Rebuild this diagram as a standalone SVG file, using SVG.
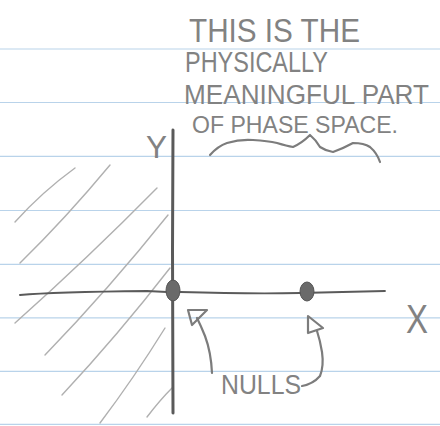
<svg xmlns="http://www.w3.org/2000/svg" width="440" height="426" viewBox="0 0 440 426">
<style>
.rule{stroke:#b9d3ea;stroke-width:1.2;fill:none}
.hatch{stroke:#b0b0b0;stroke-width:1.4;fill:none;stroke-linecap:round}
.axis{stroke:#5a5a5a;fill:none;stroke-linecap:round}
.dot{fill:#6a6a6a;stroke:#555;stroke-width:1}
.pen{stroke:#7c7c7c;stroke-width:2.2;fill:none;stroke-linecap:round;stroke-linejoin:round}
.hand{font-family:"Liberation Sans",Arial,sans-serif;fill:#828282;font-weight:normal}
</style>
<rect width="440" height="426" fill="#ffffff"/>
<g id="paper-lines">
<line class="rule" x1="0" y1="49" x2="440" y2="49"/>
<line class="rule" x1="0" y1="102.5" x2="440" y2="102.5"/>
<line class="rule" x1="0" y1="156.3" x2="440" y2="156.3"/>
<line class="rule" x1="0" y1="210.5" x2="440" y2="210.5"/>
<line class="rule" x1="0" y1="264.3" x2="440" y2="264.3"/>
<line class="rule" x1="0" y1="317.8" x2="440" y2="317.8"/>
<line class="rule" x1="0" y1="371.3" x2="440" y2="371.3"/>
<line class="rule" x1="0" y1="424.3" x2="440" y2="424.3"/>
</g>
<g id="hatch">
<path class="hatch" d="M15,222 Q42,192 75,168"/>
<path class="hatch" d="M20,263 Q66,218 110,165"/>
<path class="hatch" d="M15,323 Q88,258 157,188"/>
<path class="hatch" d="M45,355 Q108,290 168,215"/>
<path class="hatch" d="M62,395 Q118,335 170,268"/>
<path class="hatch" d="M100,423 Q134,378 165,328"/>
<path class="hatch" d="M147,417 Q160,400 172,388"/>
</g>
<g id="axes">
<path class="axis" stroke-width="3" d="M173,130 L172.5,250 L173,413"/>
<path class="axis" stroke-width="2" d="M20,295 Q53,292 147,291 L167,292"/>
<path class="axis" stroke-width="1.8" d="M180,292 Q250,294 300,293 Q345,292 385,291"/>
</g>
<g id="node-null-origin">
<ellipse class="dot" cx="173" cy="290.5" rx="7" ry="10.5"/>
</g>
<g id="node-null-right">
<ellipse class="dot" cx="307" cy="291.5" rx="7" ry="9.5"/>
</g>
<g id="label-y">
<text class="hand" x="146" y="158" font-size="32" textLength="21" lengthAdjust="spacingAndGlyphs">Y</text>
</g>
<g id="label-x">
<text class="hand" x="406" y="333" font-size="40" textLength="22" lengthAdjust="spacingAndGlyphs">X</text>
</g>
<g id="annotation">
<text class="hand" x="189" y="42" font-size="34" textLength="171" lengthAdjust="spacingAndGlyphs">THIS IS THE</text>
<text class="hand" x="185" y="72" font-size="29" textLength="143" lengthAdjust="spacingAndGlyphs">PHYSICALLY</text>
<text class="hand" x="184" y="104" font-size="27" textLength="245" lengthAdjust="spacingAndGlyphs">MEANINGFUL PART</text>
<text class="hand" x="192" y="133" font-size="24" textLength="206" lengthAdjust="spacingAndGlyphs">OF PHASE SPACE.</text>
<path class="pen" stroke-width="1.8" d="M210,155 Q218,146 227,143 Q240,139 253,140 Q268,141 277,143 Q287,146 293,147 Q302,143 310,135 Q316,140 320,147 Q326,151 333,152 Q344,148 353,143 Q364,143 370,147 Q377,153 380,162"/>
</g>
<g id="node-nulls">
<text class="hand" x="221" y="394" font-size="27" textLength="80" lengthAdjust="spacingAndGlyphs">NULLS</text>
</g>
<g id="connectors">
<path class="pen" d="M212,373 Q211,352 205,336 Q201,326 197,318"/>
<polygon class="pen" points="188,310 207,310 192,325"/>
<path class="pen" d="M302,386 Q313,384 320,376 Q324,366 322,352 Q320,340 317,331"/>
<polygon class="pen" points="308,316 323,328 308,333"/>
</g>
</svg>
